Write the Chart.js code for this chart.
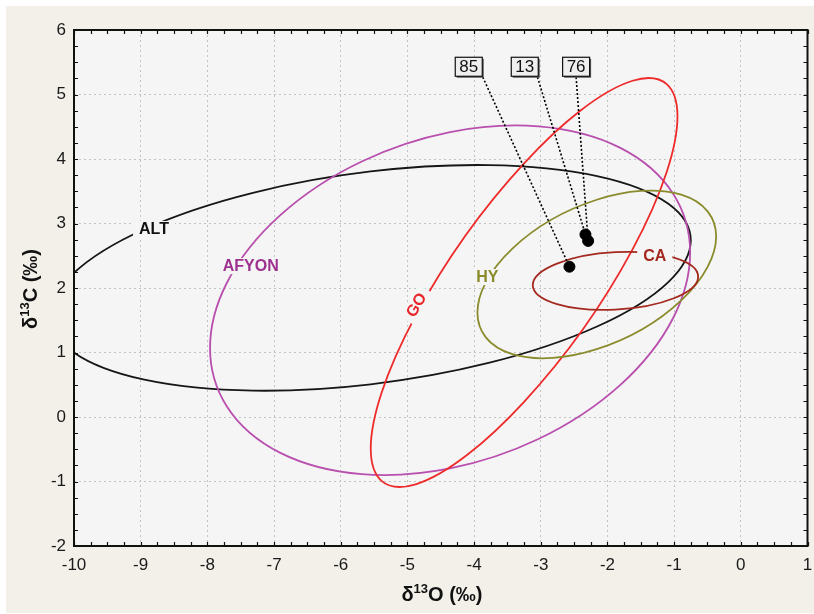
<!DOCTYPE html>
<html>
<head>
<meta charset="utf-8">
<script src="https://cdn.jsdelivr.net/npm/chart.js@4.4.1/dist/chart.umd.min.js"></script>
<style>
  body { margin: 0; background: #ffffff; }
  canvas { display: block; }
</style>
</head>
<body>
<canvas id="chart" width="814" height="614"></canvas>
<script>
// axis ranges
const xMin = -10, xMax = 1;
const yMin = -2, yMax = 6;

// confidence ellipses: centre, half width, y offset of rightmost point, half height
const ellipseNames = ["ALT", "AFYON", "GO", "HY", "CA"];
const ellipseCenterX = [-5.55, -4.36, -3.25, -2.16, -1.88];
const ellipseCenterY = [2.157, 1.81, 2.085, 2.21, 2.11];
const ellipseHalfWidth = [4.80, 3.60, 2.30, 1.79, 1.24];
const ellipseTiltY = [0.583, 0.74, 2.575, 0.59, 0.065];
const ellipseHalfHeight = [1.75, 2.71, 3.17, 1.30, 0.45];
const ellipseColors = ["#161616", "#b94fae", "#ee2a2a", "#8a8b2c", "#a4291f"];

// ellipse label anchors (data units) and rotation
const labelX = [-8.80, -7.35, -4.87, -3.80, -1.29];
const labelY = [2.915, 2.34, 1.74, 2.17, 2.51];
const labelAngle = [0, 0, -60, 0, 0];
const labelColors = ["#111111", "#9d3190", "#e8262a", "#8a8b2a", "#a4281f"];

// samples
const sampleNames = ["85", "13", "76"];
const sampleX = [-2.57, -2.33, -2.29];
const sampleY = [2.33, 2.83, 2.73];
const boxX = [-4.08, -3.24, -2.47];
const boxY = [5.43, 5.43, 5.43];
const leaderX = [-3.87, -3.05, -2.47];
const leaderY = [5.27, 5.27, 5.27];

const FONT = '"Liberation Sans", Arial, sans-serif';
const PLOT_BG = "#f4f5f4";

Chart.defaults.font.family = FONT;

const backgroundPlugin = {
  id: "background",
  beforeDraw(chart) {
    const ctx = chart.ctx, a = chart.chartArea;
    ctx.save();
    ctx.fillStyle = "#ffffff";
    ctx.fillRect(0, 0, chart.width, chart.height);
    ctx.fillStyle = "#f3f0e9";
    ctx.fillRect(6, 6, chart.width - 6, chart.height - 7);
    ctx.fillStyle = PLOT_BG;
    ctx.fillRect(a.left, a.top, a.right - a.left, a.bottom - a.top);
    ctx.restore();
  }
};

const ellipsePlugin = {
  id: "ellipses",
  beforeDatasetsDraw(chart) {
    const ctx = chart.ctx, a = chart.chartArea;
    const xs = chart.scales.x, ys = chart.scales.y;
    const sx = xs.getPixelForValue(1) - xs.getPixelForValue(0);
    const sy = ys.getPixelForValue(1) - ys.getPixelForValue(0);

    ctx.save();
    ctx.beginPath();
    ctx.rect(a.left, a.top, a.right - a.left, a.bottom - a.top);
    ctx.clip();

    ellipseNames.forEach((name, i) => {
      const c = Math.sqrt(ellipseHalfHeight[i] ** 2 - ellipseTiltY[i] ** 2);
      ctx.save();
      ctx.beginPath();
      ctx.transform(sx * ellipseHalfWidth[i], sy * ellipseTiltY[i], 0, sy * c,
        xs.getPixelForValue(ellipseCenterX[i]), ys.getPixelForValue(ellipseCenterY[i]));
      ctx.arc(0, 0, 1, 0, Math.PI * 2);
      ctx.restore();
      ctx.lineWidth = 1.8;
      ctx.strokeStyle = ellipseColors[i];
      ctx.stroke();
    });

    // labels sit on the ellipse, with a gap cut out of the line
    ctx.font = "bold 16px " + FONT;
    ctx.textAlign = "center";
    ctx.textBaseline = "middle";
    ellipseNames.forEach((name, i) => {
      const w = ctx.measureText(name).width;
      ctx.save();
      ctx.translate(xs.getPixelForValue(labelX[i]), ys.getPixelForValue(labelY[i]));
      ctx.rotate(labelAngle[i] * Math.PI / 180);
      ctx.fillStyle = PLOT_BG;
      ctx.fillRect(-w / 2 - 6, -8, w + 12, 16);
      ctx.fillStyle = labelColors[i];
      ctx.fillText(name, 0, 1);
      ctx.restore();
    });

    // dotted leaders from the boxes to the samples
    ctx.setLineDash([2, 2]);
    ctx.lineWidth = 1.6;
    ctx.strokeStyle = "#000";
    sampleNames.forEach((name, i) => {
      ctx.beginPath();
      ctx.moveTo(xs.getPixelForValue(leaderX[i]), ys.getPixelForValue(leaderY[i]));
      ctx.lineTo(xs.getPixelForValue(sampleX[i]), ys.getPixelForValue(sampleY[i]));
      ctx.stroke();
    });
    ctx.restore();
  },
  afterDatasetsDraw(chart) {
    const ctx = chart.ctx;
    const xs = chart.scales.x, ys = chart.scales.y;
    ctx.save();
    ctx.font = "17px " + FONT;
    ctx.textAlign = "center";
    ctx.textBaseline = "middle";
    sampleNames.forEach((name, i) => {
      const cx = xs.getPixelForValue(boxX[i]), cy = ys.getPixelForValue(boxY[i]);
      const w = 27, h = 19;
      ctx.fillStyle = "#5a5a5a";
      ctx.fillRect(cx - w / 2 + 1.5, cy - h / 2 + 1.5, w, h);
      ctx.fillStyle = "#efefef";
      ctx.fillRect(cx - w / 2, cy - h / 2, w, h);
      ctx.lineWidth = 1.2;
      ctx.strokeStyle = "#111";
      ctx.strokeRect(cx - w / 2, cy - h / 2, w, h);
      ctx.fillStyle = "#111";
      ctx.fillText(name, cx, cy + 1);
    });
    ctx.restore();
  }
};

const framePlugin = {
  id: "frame",
  afterDraw(chart) {
    const ctx = chart.ctx, a = chart.chartArea;
    const xs = chart.scales.x, ys = chart.scales.y;
    ctx.save();
    ctx.strokeStyle = "#111";
    ctx.lineWidth = 1.2;
    // inward ticks every 0.25 on all four sides
    ctx.beginPath();
    for (let v = xMin; v <= xMax + 1e-9; v += 0.25) {
      const p = Math.round(xs.getPixelForValue(v)) + 0.5;
      ctx.moveTo(p, a.bottom); ctx.lineTo(p, a.bottom - 4);
      ctx.moveTo(p, a.top); ctx.lineTo(p, a.top + 4);
    }
    for (let v = yMin; v <= yMax + 1e-9; v += 0.25) {
      const p = Math.round(ys.getPixelForValue(v)) + 0.5;
      ctx.moveTo(a.left, p); ctx.lineTo(a.left + 4, p);
      ctx.moveTo(a.right, p); ctx.lineTo(a.right - 4, p);
    }
    ctx.stroke();
    ctx.lineWidth = 2;
    ctx.strokeRect(a.left, a.top, a.right - a.left, a.bottom - a.top);

    // axis titles with superscript 13
    const title = (pre, sup, post) => {
      ctx.font = "bold 20px " + FONT;
      const w1 = ctx.measureText(pre).width;
      const w3 = ctx.measureText(post).width;
      ctx.font = "bold 13px " + FONT;
      const w2 = ctx.measureText(sup).width;
      const total = w1 + w2 + w3;
      let x = -total / 2;
      ctx.textAlign = "left";
      ctx.textBaseline = "alphabetic";
      ctx.font = "bold 20px " + FONT;
      ctx.fillText(pre, x, 0); x += w1;
      ctx.font = "bold 13px " + FONT;
      ctx.fillText(sup, x, -8); x += w2;
      ctx.font = "bold 20px " + FONT;
      ctx.fillText(post, x, 0);
    };
    ctx.fillStyle = "#111";
    ctx.save();
    ctx.translate(442, 601);
    title("\u03b4", "13", "O (\u2030)");
    ctx.restore();
    ctx.save();
    ctx.translate(37, 289);
    ctx.rotate(-Math.PI / 2);
    title("\u03b4", "13", "C (\u2030)");
    ctx.restore();
    ctx.restore();
  }
};

new Chart(document.getElementById("chart"), {
  type: "scatter",
  data: {
    datasets: [{
      data: sampleX.map((x, i) => ({ x: x, y: sampleY[i] })),
      backgroundColor: "#000",
      borderColor: "#000",
      pointRadius: 5.5,
      pointHoverRadius: 5.5
    }]
  },
  options: {
    responsive: false,
    animation: false,
    events: [],
    layout: { padding: { left: 6, top: 30, right: 4, bottom: 0 } },
    plugins: { legend: { display: false }, tooltip: { enabled: false } },
    scales: {
      x: {
        type: "linear",
        min: xMin,
        max: xMax,
        afterFit(scale) { scale.height = 68; },
        ticks: { stepSize: 1, color: "#1a1a1a", font: { size: 17 }, padding: 0 },
        grid: { color: "#c3c3c3", lineWidth: 1, drawTicks: true, tickLength: 9, tickColor: "rgba(0,0,0,0)" },
        border: { display: false, dash: [2, 3] }
      },
      y: {
        type: "linear",
        min: yMin,
        max: yMax,
        afterFit(scale) { scale.width = 68; },
        ticks: { stepSize: 1, color: "#1a1a1a", font: { size: 17 }, padding: 8 },
        grid: { color: "#c3c3c3", lineWidth: 1, drawTicks: false },
        border: { display: false, dash: [2, 3] }
      }
    }
  },
  plugins: [backgroundPlugin, ellipsePlugin, framePlugin]
});
</script>
</body>
</html>
